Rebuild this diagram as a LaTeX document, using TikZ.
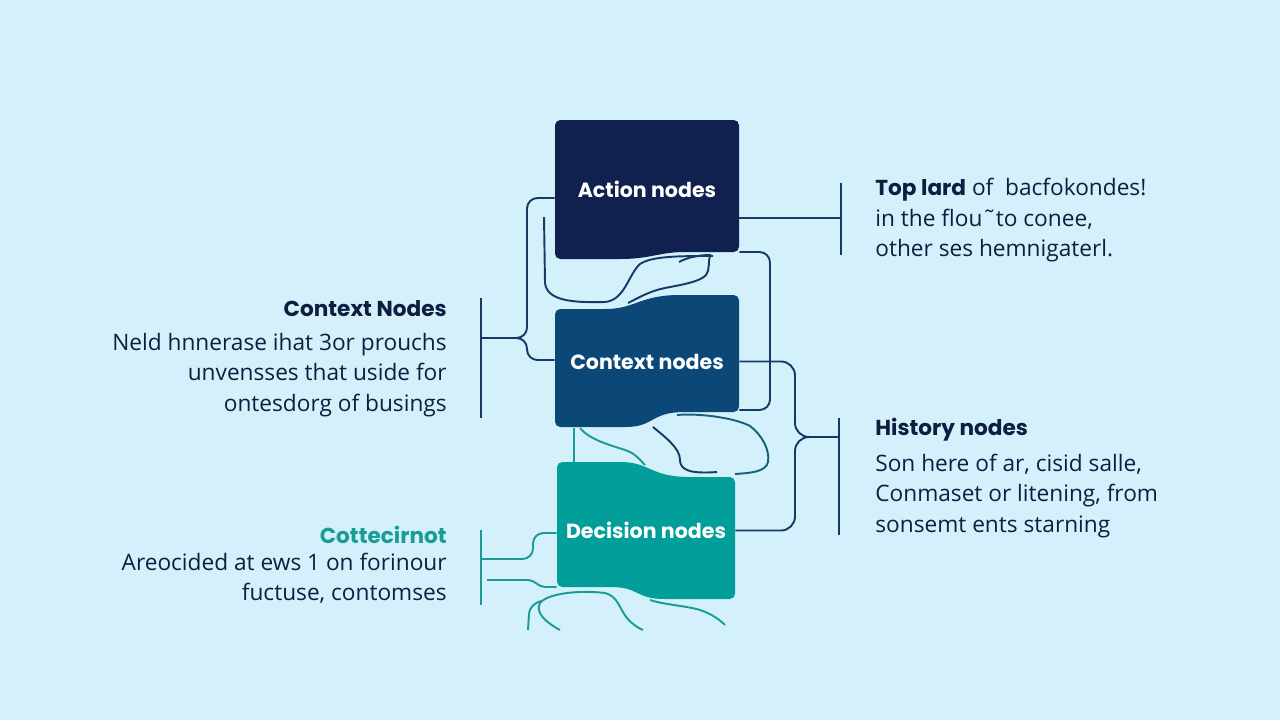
\documentclass[tikz,border=0pt]{standalone}
\usepackage{fontspec}
\setmainfont{Open Sans}
\newfontfamily\headfont{Poppins}

\definecolor{bgcol}{HTML}{D4F1FB}
\definecolor{actcol}{HTML}{10214F}
\definecolor{ctxcol}{HTML}{0B4878}
\definecolor{deccol}{HTML}{019E9A}
\definecolor{inkcol}{HTML}{0F1E40}
\definecolor{linecol}{HTML}{163A68}
\definecolor{tealcol}{HTML}{1A9C96}

\tikzset{
  boxlabel/.style={text=white, font=\headfont\bfseries\fontsize{11.7}{14}\selectfont},
  note/.style={text=inkcol, inner sep=0pt, font=\fontsize{12.9}{17.3}\selectfont},
  link/.style={draw=linecol, line width=1.1pt},
  tlink/.style={draw=tealcol, line width=1.1pt},
}
\newcommand\headtext[1]{{\headfont\bfseries\fontsize{12.3}{17.3}\selectfont #1}}

\begin{document}
\begin{tikzpicture}[x=0.02cm, y=-0.02cm]
\fill[bgcol] (0,0) rectangle (1280,720);
\useasboundingbox (0,0) rectangle (1280,720);

\fill[actcol, rounded corners=3pt] (555,120) -- (739,120) -- (739,252) -- (690,252) .. controls (660,252) and (650,259) .. (615,259) -- (555,259) -- cycle;
\fill[ctxcol, rounded corners=3pt] (555,309) -- (600,309) .. controls (635,309) and (640,295) .. (685,295) -- (739,295) -- (739,412) -- (690,412) .. controls (650,412) and (655,427) .. (620,427) -- (555,427) -- cycle;
\fill[deccol, rounded corners=3pt] (557,462) -- (615,462) .. controls (650,462) and (650,477) .. (695,477) -- (735,477) -- (735,599) -- (670,599) .. controls (635,599) and (640,587) .. (605,587) -- (557,587) -- cycle;

\node[boxlabel, minimum width=3.68cm, minimum height=2.78cm] (act) at (647,189.5) {Action nodes};
\node[boxlabel, minimum width=3.68cm, minimum height=2.66cm] (ctx) at (647,361.5) {Context nodes};
\node[boxlabel, minimum width=3.56cm, minimum height=2.74cm] (dec) at (646,530.5) {Decision nodes};

\node[note, anchor=north west, align=left] (topnote) at (875,178) {\headtext{Top lard} of\ \ bacfokondes!\\ in the flou˜to conee,\\ other ses hemnigaterl.};
\node[note, anchor=north west, align=left] (histnote) at (875,418) {\headtext{History nodes}\\[3pt] Son here of ar, cisid salle,\\ Conmaset or litening, from\\ sonsemt ents starning};
\node[note, anchor=north east, align=right] (ctxnote) at (447,300) {\headtext{Context Nodes}\\[2pt] Neld hnnerase ihat 3or prouchs\\ unvensses that uside for\\ ontesdorg of busings};
\node[note, anchor=north east, align=right] (decnote) at (447,526) {\headtext{\color{tealcol}Cottecirnot}\\[-2pt] Areocided at ews 1 on forinour\\ fuctuse, contomses};

\coordinate (topbr) at (841,218);
\coordinate (histbr) at (839,437);
\coordinate (ctxbr) at (481,338);
\coordinate (decbr) at (481,559);
\coordinate (decbr2) at (487,580);

\draw[link] (topbr) ++(0,-35) -- ++(0,72);
\draw[link] (histbr) ++(0,-19) -- ++(0,117);
\draw[link] (ctxbr) ++(0,-40) -- ++(0,120);
\draw[tlink] (decbr) ++(0,-29) -- ++(0,75);

\draw[link] (act.east |- topbr) -- (topbr);
\draw[link, rounded corners=6pt] (act.east |- 0,252) -- (770,252) -- (770,410) -- (ctx.east |- 0,410);
\draw[link, rounded corners=8pt] (ctx.east) -- (795,361.5) -- (795,437) -- (histbr);
\draw[link, rounded corners=8pt] (dec.east) -- (795,530.5) -- (795,437) -- (histbr);
\draw[link, rounded corners=6pt] (ctxbr) -- (527,338) -- (527,198) -- (act.west |- 0,198);
\draw[link, rounded corners=6pt] (ctxbr) -- (527,338) -- (527,360) -- (ctx.west |- 0,360);
\draw[tlink, rounded corners=6pt] (decbr) -- (533,559) -- (533,533) -- (dec.west |- 0,533);
\draw[tlink] (decbr2) -- (528,580) .. controls (535,580) and (538,587) .. (545,587) -- (dec.west |- 0,587);

\draw[link] (544,217) -- (545,283) .. controls (547,300) and (570,303) .. (605,302) .. controls (625,300) and (628,275) .. (640,264) .. controls (652,256) and (680,256) .. (713,256);
\draw[link] (679,262) .. controls (688,257) and (700,255) .. (710,255) .. controls (708,262) and (710,270) .. (706,275) .. controls (700,282) and (680,285) .. (665,288) .. controls (650,291) and (640,297) .. (628,303);
\draw[link] (653,427) .. controls (665,437) and (680,448) .. (680,460) .. controls (680,470) and (690,474) .. (717,472);
\draw[link, draw=linecol!60!tealcol] (677,415) .. controls (700,413) and (735,418) .. (750,426) .. controls (762,435) and (770,450) .. (768,462) .. controls (766,472) and (750,473) .. (735,474);
\draw[tlink] (574,428) -- (574,462);
\draw[tlink] (580,428) .. controls (590,440) and (610,445) .. (625,450) .. controls (635,453) and (640,460) .. (645,465);
\draw[tlink] (528,630) -- (529,614) .. controls (530,606) and (535,603) .. (541,601);
\draw[tlink] (560,630) .. controls (545,622) and (535,612) .. (540,603) .. controls (548,593) and (580,590) .. (605,593) .. controls (618,596) and (620,610) .. (627,618) .. controls (632,624) and (638,628) .. (643,630);
\draw[tlink] (650,600) .. controls (665,605) and (690,606) .. (703,611) .. controls (713,615) and (720,620) .. (725,625);
\end{tikzpicture}
\end{document}
